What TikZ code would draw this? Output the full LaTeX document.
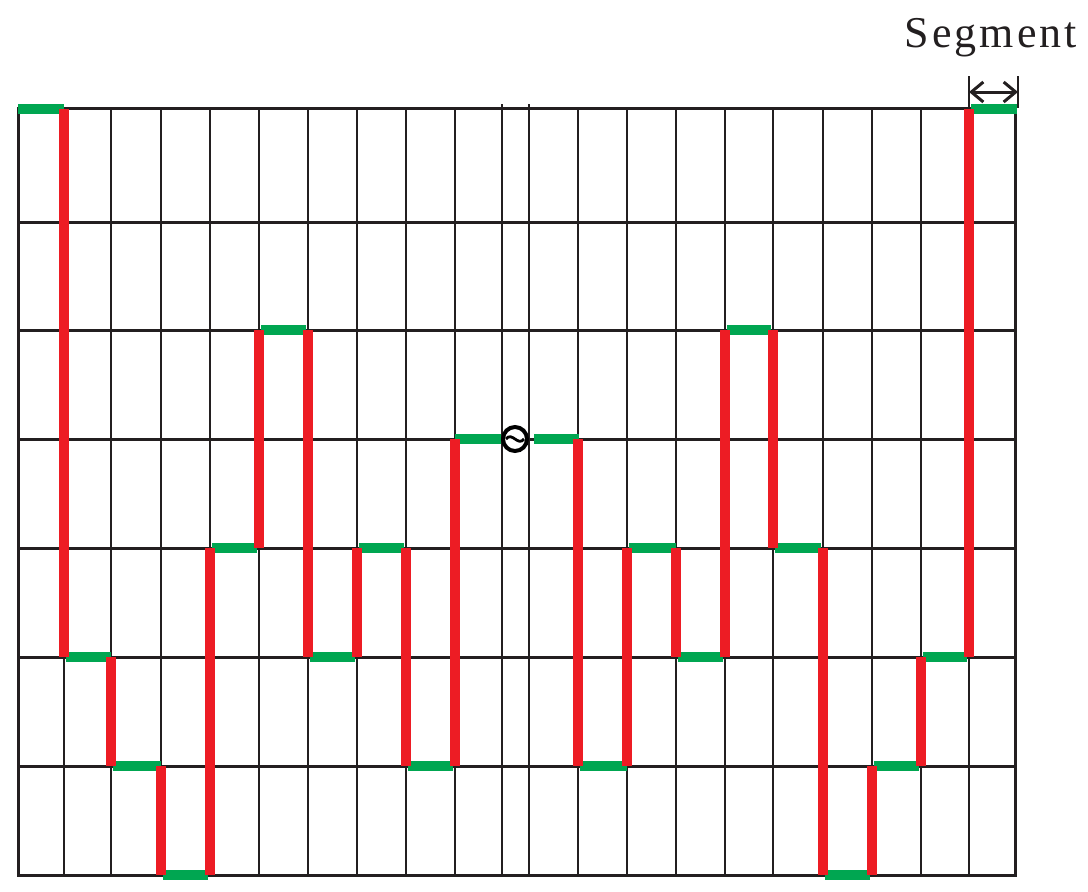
\documentclass[tikz,border=0pt]{standalone}
\usepackage{fontspec}
\newfontfamily\segfont[LetterSpace=7]{Liberation Serif}
\usetikzlibrary{arrows.meta}
\definecolor{wred}{HTML}{ED1C24}
\definecolor{wgreen}{HTML}{00A651}
\definecolor{gridc}{HTML}{231F20}
\tikzset{
  vgrid/.style={draw=gridc,line width=2.5pt},
  hgrid/.style={draw=gridc,line width=3pt},
  gseg/.style={draw=wgreen,line width=10pt,line cap=butt},
  rseg/.style={draw=wred,line width=10.5pt,line cap=butt},
  tick/.style={draw=gridc,line width=2.2pt},
  dim/.style={draw=gridc,line width=3pt,{Straight Barb[length=12pt,width=20pt]}-{Straight Barb[length=12pt,width=20pt]}}
}
\begin{document}
\begin{tikzpicture}[x=1pt,y=-1pt]
\useasboundingbox (0,0) rectangle (1088,892);
% grid
\foreach \x in {64,111,161,210,259,308,357,406,455,578,627,676,725,773,823,872,921,969}
  \draw[vgrid] (\x,108) -- (\x,875);
\foreach \x in {502,529}
  \draw[vgrid] (\x,104) -- (\x,875);
\foreach \y in {222,330,439,548,657,766}
  \draw[hgrid] (18,\y) -- (1015,\y);
\draw[hgrid] (18,108) rectangle (1015,875);
% green segments
\foreach \a/\b/\y in {18/64/109,66/111/657,113/161/766,163/208/875,212/257/548,261/306/330,310/355/657,359/404/548,408/453/766,455/501/439,534/579/439,580/627/766,629/676/548,678/723/657,727/771/330,775/821/548,825/870/875,874/919/766,923/967/657,971/1017/109}
  \draw[gseg] (\a,\y) -- (\b,\y);
% red transitions
\foreach \x/\a/\b in {64/109/657,111/657/766,161/766/875,210/875/548,259/548/330,308/330/657,357/657/548,406/548/766,455/766/439,578/439/766,627/766/548,676/548/657,725/657/330,773/330/548,823/548/875,872/875/766,921/766/657,969/657/109}
  \draw[rseg] (\x,\a) -- (\x,\b);
% source symbol
\node[circle,draw=black,line width=4pt,minimum size=24pt,inner sep=0pt,fill=white] (src) at (515,439) {};
\draw[black,line width=2.8pt] ([xshift=-9pt]src.center) .. controls ([xshift=-3pt,yshift=8pt]src.center) and ([xshift=3pt,yshift=-8pt]src.center) .. ([xshift=9pt]src.center);
% segment dimension
\coordinate (dl) at (969,92);
\coordinate (dr) at (1018,92);
\draw[tick] (969,76) -- (969,108);
\draw[tick] (1018,76) -- (1018,108);
\draw[dim] (dl) -- (dr);
\node[anchor=base,inner sep=0pt,font=\segfont\fontsize{44}{44}\selectfont,text=gridc] (seg) at (991,47) {Segment};
\end{tikzpicture}
\end{document}
